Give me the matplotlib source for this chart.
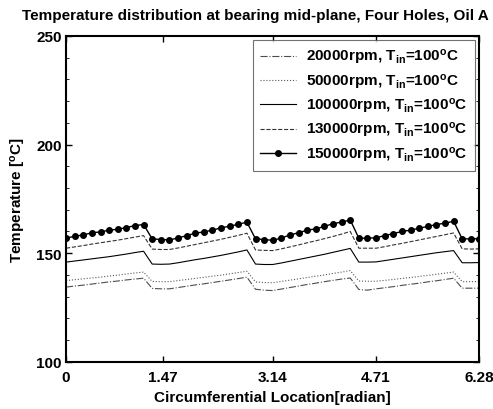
import numpy as np
import matplotlib
matplotlib.use('Agg')
import matplotlib.pyplot as plt
from matplotlib.ticker import MultipleLocator

plt.rcParams['font.family'] = ['Liberation Sans', 'DejaVu Sans']
plt.rcParams['font.weight'] = 'bold'
plt.rcParams['mathtext.fontset'] = 'custom'
plt.rcParams['mathtext.rm'] = 'Liberation Sans:bold'
plt.rcParams['mathtext.it'] = 'Liberation Sans:bold'
plt.rcParams['mathtext.bf'] = 'Liberation Sans:bold'

# circumferential grid, 49 nodes around the bearing
theta = np.linspace(0, 2 * np.pi, 49)

t_20000 = [134.4, 134.9, 135.3, 135.8, 136.3, 136.8, 137.2, 137.7, 138.1, 138.5,
           133.8, 133.6, 133.6, 134.2, 134.8, 135.4, 135.9, 136.5, 137.1, 137.7,
           138.3, 139.0, 133.4, 133.0, 132.8, 133.5, 134.2, 134.9, 135.6, 136.2,
           136.9, 137.5, 138.1, 138.6, 133.3, 133.0, 133.6, 134.1, 134.6, 135.2,
           135.7, 136.2, 136.8, 137.3, 137.9, 138.5, 133.9, 133.9, 133.9]
t_50000 = [137.4, 137.8, 138.2, 138.6, 139.0, 139.5, 139.9, 140.4, 140.9, 141.3,
           137.0, 136.9, 136.9, 137.4, 137.9, 138.4, 138.9, 139.4, 139.9, 140.5,
           141.1, 141.7, 136.8, 136.5, 136.4, 137.0, 137.6, 138.2, 138.8, 139.4,
           140.0, 140.7, 141.3, 142.0, 137.2, 137.1, 137.1, 137.5, 137.9, 138.4,
           138.8, 139.3, 139.8, 140.3, 140.8, 141.3, 136.9, 136.9, 137.0]
t_100000 = [145.9, 146.4, 146.9, 147.4, 147.9, 148.4, 149.0, 149.6, 150.3, 150.9,
            145.0, 144.9, 145.0, 145.6, 146.3, 147.0, 147.6, 148.3, 149.0, 149.8,
            150.6, 151.5, 145.0, 144.8, 144.8, 145.5, 146.3, 147.1, 147.9, 148.7,
            149.5, 150.4, 151.3, 152.2, 145.9, 145.9, 146.0, 146.6, 147.2, 147.8,
            148.4, 149.0, 149.6, 150.2, 150.7, 151.2, 145.6, 145.6, 145.7]
t_130000 = [152.3, 152.9, 153.5, 154.2, 154.8, 155.4, 156.0, 156.7, 157.4, 158.1,
            151.9, 151.7, 151.7, 152.4, 153.2, 154.0, 154.8, 155.6, 156.4, 157.3,
            158.2, 159.2, 151.5, 151.3, 151.2, 152.0, 152.9, 153.8, 154.8, 155.7,
            156.7, 157.7, 158.8, 160.0, 152.3, 152.3, 152.3, 153.0, 153.8, 154.5,
            155.3, 156.1, 156.9, 157.7, 158.5, 159.3, 152.0, 151.9, 152.0]
t_150000 = [156.9, 157.8, 158.4, 159.4, 159.8, 160.6, 161.0, 161.8, 162.7, 163.2,
            156.6, 156.3, 156.1, 157.0, 158.1, 159.2, 159.8, 160.6, 161.7, 162.4,
            163.3, 164.3, 156.6, 156.3, 155.9, 157.0, 158.4, 159.4, 160.6, 161.2,
            162.3, 163.6, 164.3, 165.3, 156.9, 156.9, 157.1, 158.1, 159.0, 160.0,
            160.6, 161.5, 162.3, 163.2, 163.8, 164.7, 156.6, 156.6, 156.7]

speeds = ['20000', '50000', '100000', '130000', '150000']
styles = ['-.', ':', '-', '--', '-']
greys = ['0.3', '0.35', 'black', '0.2', 'black']

fig = plt.figure(figsize=(4.93, 4.10), dpi=100)
ax = fig.add_axes([0.134, 0.115, 0.838, 0.795])

for rpm, temps, ls, c in zip(speeds, [t_20000, t_50000, t_100000, t_130000, t_150000], styles, greys):
    label = rpm + r'rpm, T$_{\rm in}$=100$^{\rm o}$C'
    if rpm == '150000':
        ax.plot(theta, temps, ls, color=c, lw=1.0, marker='o', ms=4, label=label)
    else:
        ax.plot(theta, temps, ls, color=c, lw=0.8, label=label)

ax.set_xlim(0, 6.28)
ax.set_ylim(100, 250)
ax.set_xticks([0, 1.47, 3.14, 4.71, 6.28])
ax.set_xticklabels(['0', '1.47', '3.14', '4.71', '6.28'])
ax.set_yticks([100, 150, 200, 250])
ax.yaxis.set_minor_locator(MultipleLocator(10))
ax.tick_params(direction='in', top=True, right=True, labelsize=11, length=4, width=1, pad=3)
ax.tick_params(axis='x', pad=6)
ax.tick_params(which='minor', direction='in', right=True, left=True, length=2)
for sp in ax.spines.values():
    sp.set_linewidth(1.5)

ax.set_xlabel('Circumferential Location[radian]', fontsize=11, fontweight='bold', labelpad=4)
ax.set_ylabel(r'Temperature [$^{\rm o}$C]', fontsize=11, fontweight='bold', labelpad=6)
fig.text(0.517, 0.962, 'Temperature distribution at bearing mid-plane, Four Holes, Oil A',
         ha='center', va='center', fontsize=11, fontweight='bold')

leg = ax.legend(loc='upper right', fontsize=11, frameon=True, fancybox=False,
                edgecolor='0.3', handlelength=2.3, labelspacing=0.35,
                borderaxespad=0.25, handletextpad=0.7, borderpad=0.5)
leg.get_frame().set_linewidth(0.8)

fig.savefig('out.png', dpi=100)
